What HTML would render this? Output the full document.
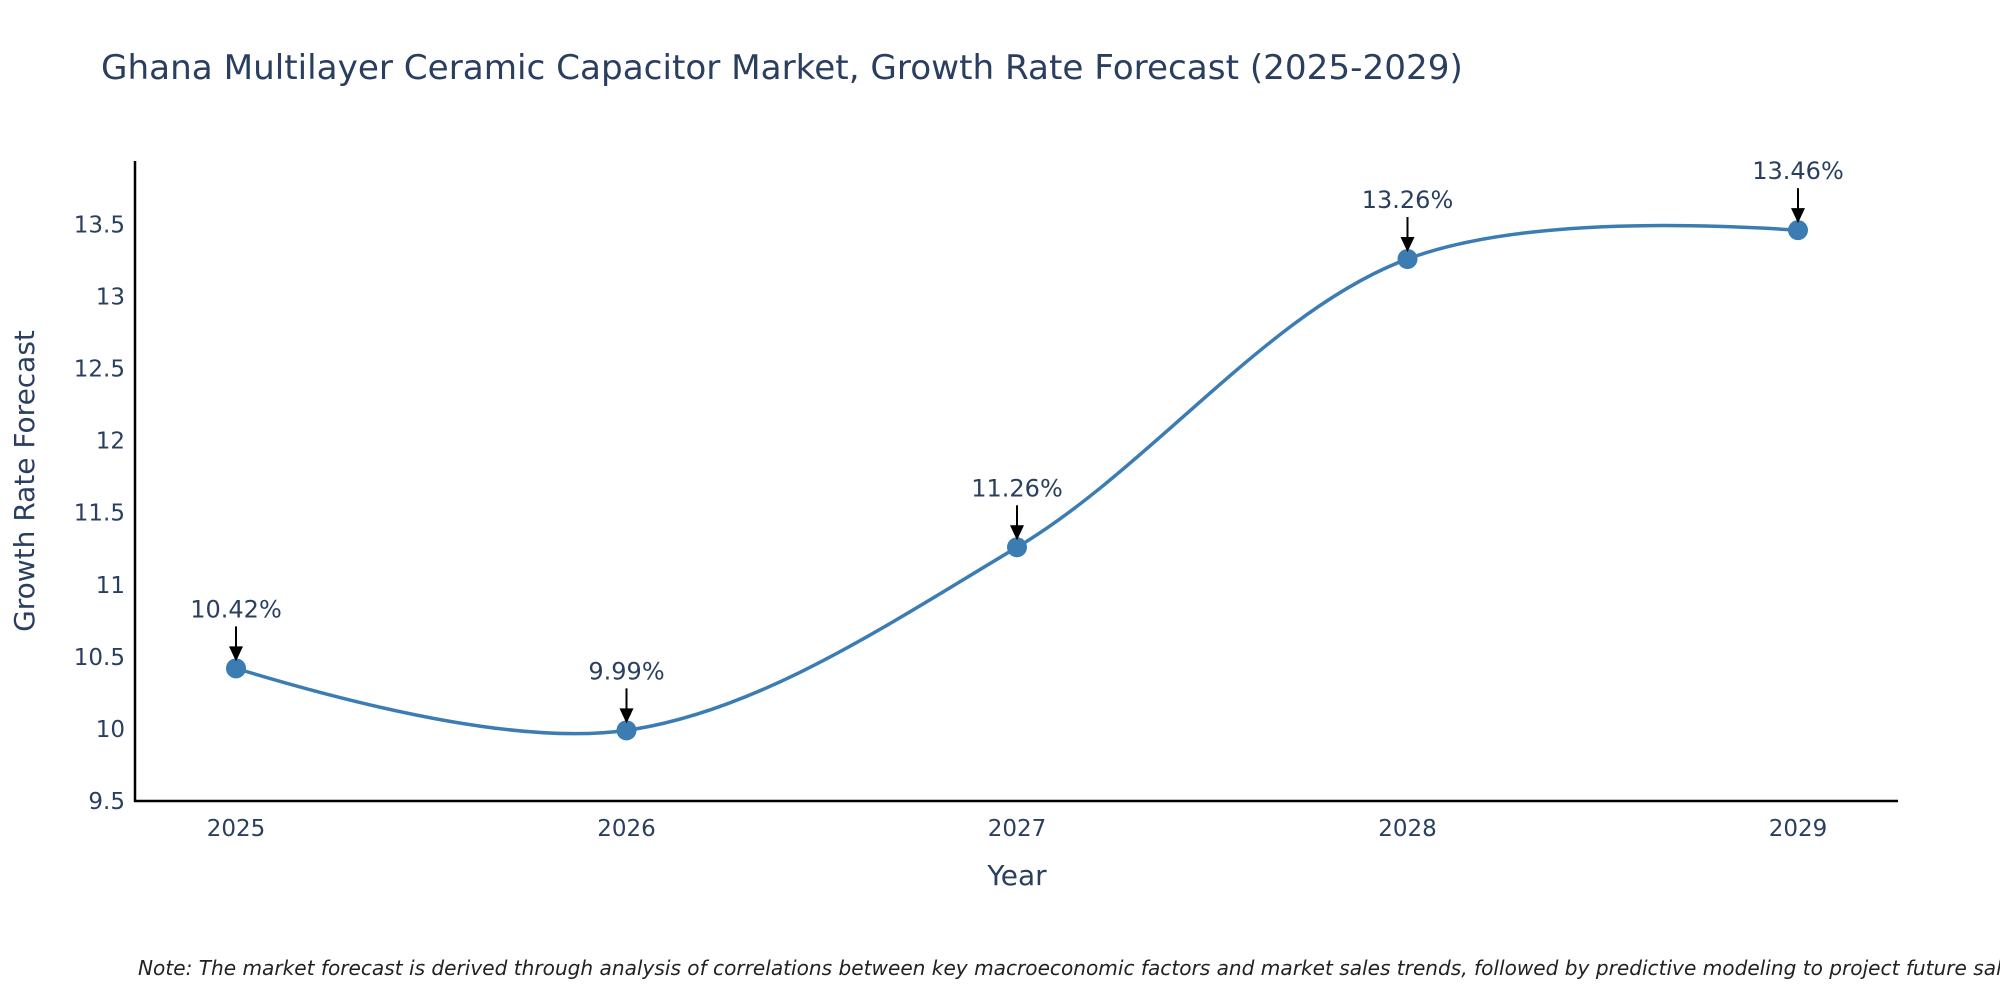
<!DOCTYPE html>
<html><head><meta charset="utf-8"><style>
body{margin:0;background:#fff}
svg{display:block;font-family:"DejaVu Sans","Liberation Sans",sans-serif}
</style></head><body>
<svg id="chart" width="2000" height="1000">
<text x="101" y="79" font-size="34.2" fill="#2a3f5f">Ghana Multilayer Ceramic Capacitor Market, Growth Rate Forecast (2025-2029)</text>
<g id="yticks"></g>
<g id="xticks"></g>
<line x1="135" y1="161" x2="135" y2="802" stroke="#000" stroke-width="2.5"/>
<line x1="134" y1="801" x2="1898" y2="801" stroke="#000" stroke-width="2.5"/>
<text transform="translate(34,481) rotate(-90)" text-anchor="middle" font-size="28" fill="#2a3f5f">Growth Rate Forecast</text>
<text x="1017" y="885" text-anchor="middle" font-size="28" fill="#2a3f5f">Year</text>
<path id="line" fill="none" stroke="#3b7db3" stroke-width="3.5"/>
<g id="marks"></g>
<text x="138" y="975" font-size="20.1" font-style="italic" fill="#222">Note: The market forecast is derived through analysis of correlations between key macroeconomic factors and market sales trends, followed by predictive modeling to project future sales.</text>
</svg>
<script>
const years=["2025","2026","2027","2028","2029"];
const values=[10.42,9.99,11.26,13.26,13.46];
const labels=["10.42%","9.99%","11.26%","13.26%","13.46%"];
const yTicks=[9.5,10,10.5,11,11.5,12,12.5,13,13.5];
const NS="http://www.w3.org/2000/svg";
const X=i=>236+i*390.5;
const Y=v=>801-(v-9.5)*144.15;
function mk(t,a,p){const e=document.createElementNS(NS,t);for(const k in a)e.setAttribute(k,a[k]);p.appendChild(e);return e;}
const yt=document.getElementById('yticks');
yTicks.forEach(v=>{const t=mk('text',{x:125,y:Y(v)+8,'text-anchor':'end','font-size':23,fill:'#2a3f5f'},yt);


t.textContent=String(v);});
const xt=document.getElementById('xticks');
years.forEach((y,i)=>{const t=mk('text',{x:X(i),y:836,'text-anchor':'middle','font-size':23,fill:'#2a3f5f'},xt);


t.textContent=y;});
const pts=values.map((v,i)=>[X(i),Y(v)]);
function tan(p,c,n,s){const d1x=p[0]-c[0],d1y=p[1]-c[1],d2x=n[0]-c[0],d2y=n[1]-c[1];
const d1a=Math.pow(d1x*d1x+d1y*d1y,0.25),d2a=Math.pow(d2x*d2x+d2y*d2y,0.25);
const nx=(d2a*d2a*d1x-d1a*d1a*d2x)*s,ny=(d2a*d2a*d1y-d1a*d1a*d2y)*s;
const a=3*d2a*(d1a+d2a),b=3*d1a*(d1a+d2a);
return [[c[0]+nx/a,c[1]+ny/a],[c[0]-nx/b,c[1]-ny/b]];}
const T=[];for(let i=1;i<pts.length-1;i++)T.push(tan(pts[i-1],pts[i],pts[i+1],1));
let d='M'+pts[0]+'Q'+T[0][0]+' '+pts[1];
for(let i=2;i<pts.length-1;i++)d+='C'+T[i-2][1]+' '+T[i-1][0]+' '+pts[i];
d+='Q'+T[T.length-1][1]+' '+pts[pts.length-1];
document.getElementById('line').setAttribute('d',d);
const g=document.getElementById('marks');
pts.forEach((p,i)=>{
const c=mk('circle',{cx:p[0],cy:p[1],r:10,fill:'#3b7db3'},g);


const l=mk('line',{x1:p[0],y1:p[1]-42,x2:p[0],y2:p[1]-18,stroke:'#000','stroke-width':2},g);


const h=mk('polygon',{points:`${p[0]-7},${p[1]-22} ${p[0]+7},${p[1]-22} ${p[0]},${p[1]-7}`,fill:'#000'},g);


const t=mk('text',{x:p[0],y:p[1]-51,'text-anchor':'middle','font-size':24,fill:'#2a3f5f'},g);


t.textContent=labels[i];});
</script>
</body></html>
